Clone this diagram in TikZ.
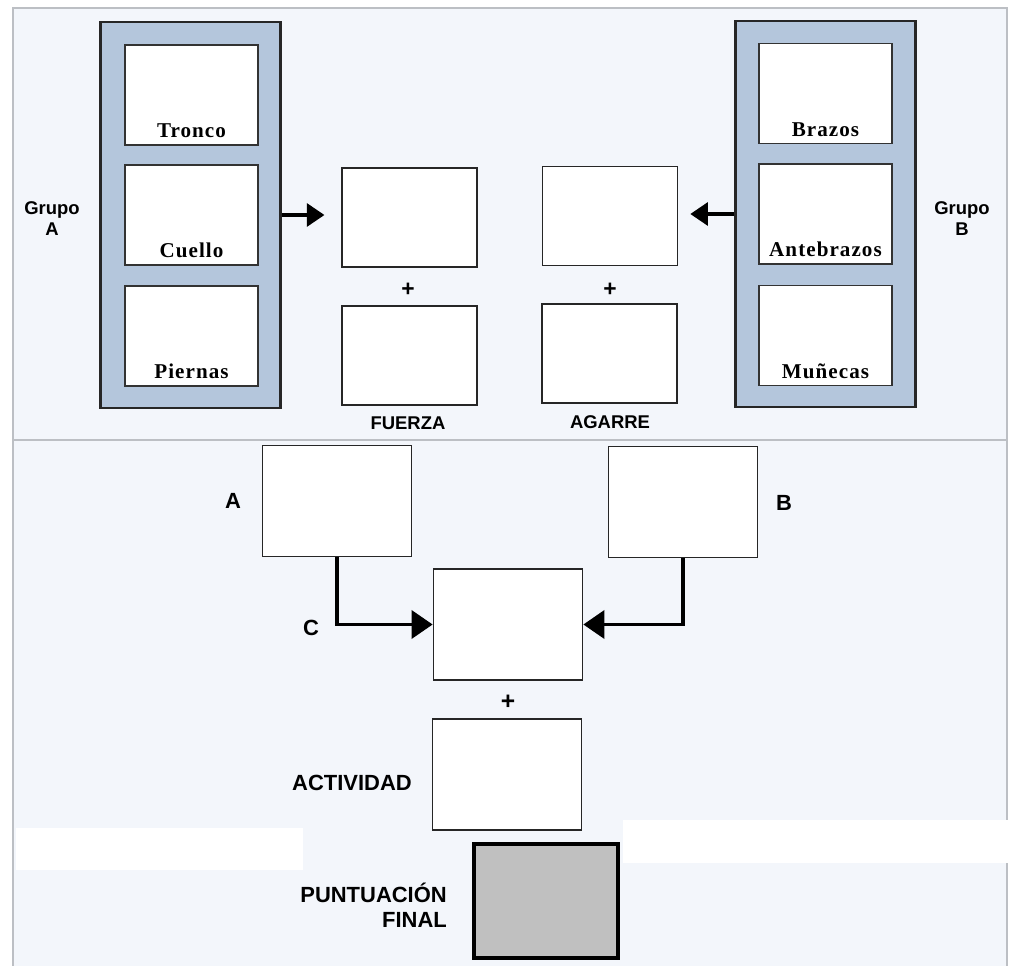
\documentclass[tikz,border=0pt]{standalone}
\usepackage{fontspec}
\setmainfont{Liberation Sans}
\newfontfamily\cellfont[LetterSpace=5]{Liberation Serif}
\usepackage{tikz}
\usetikzlibrary{arrows.meta, calc, positioning}

\definecolor{sheet}{RGB}{243,246,251}
\definecolor{grpblue}{RGB}{180,198,220}
\definecolor{framegray}{RGB}{188,191,196}
\definecolor{finalgray}{RGB}{192,192,192}

\begin{document}
\begin{tikzpicture}[x=0.02cm, y=-0.02cm,
    panel/.style={draw=black!85, line width=1.6pt, fill=grpblue, minimum width=3.6cm, minimum height=7.72cm, inner sep=0pt},
    cell/.style={draw=black!80, line width=1pt, fill=white, minimum width=2.66cm, minimum height=2cm, inner sep=0pt},
    score/.style={draw=black!85, line width=1pt, fill=white, minimum width=2.7cm, minimum height=1.98cm, inner sep=0pt},
    bigscore/.style={score, minimum width=2.98cm, minimum height=2.22cm},
    cellname/.style={anchor=base, inner sep=0pt, font=\cellfont\bfseries\fontsize{12}{14}\selectfont},
    tag/.style={font=\bfseries\fontsize{10.5}{12}\selectfont, align=center},
    bigtag/.style={font=\bfseries\fontsize{12.5}{14}\selectfont},
    feed/.style={line width=2pt, -{Triangle[length=10pt,width=13pt]}},
    merge/.style={line width=2pt, -{Triangle[length=12pt,width=16pt]}}]
    \useasboundingbox (0,0) rectangle (1011,966);

    % sheet and frame
    \fill[sheet] (13,8) rectangle (1007,966);
    \draw[framegray, line width=0.9pt] (13,966) -- (13,8) -- (1007,8) -- (1007,966);
    \draw[framegray, line width=0.8pt] (13,440) -- (1007,440);
    \fill[white] (16,828) rectangle (303,870);
    \fill[white] (623,820) rectangle (1008,863);

    % group A
    \node[panel] (grpA) at (190.5,215) {};
    \foreach \nm/\txt/\yy in {tronco/Tronco/95, cuello/Cuello/215, piernas/Piernas/336} {
        \node[cell] (\nm) at (191.5,\yy) {};
        \node[cellname] (\nm-l) at ([yshift=4.5pt]\nm.south) {\txt};
    }
    \node[tag] (grpA-l) at (52,219) {Grupo\\A};

    % group B
    \node[panel] (grpB) at (825.5,214) {};
    \foreach \nm/\txt/\yy in {brazos/Brazos/93.5, antebrazos/Antebrazos/214, munecas/Muñecas/335.5} {
        \node[cell] (\nm) at (825.5,\yy) {};
        \node[cellname] (\nm-l) at ([yshift=4.5pt]\nm.south) {\txt};
    }
    \node[tag] (grpB-l) at (962,219) {Grupo\\B};

    % fuerza / agarre
    \node[score] (fuerzaTop) at (409.5,217.5) {};
    \node[score] (fuerzaBot) at (409.5,355.5) {};
    \node[tag] (fuerzaPlus) at (408,290) {\fontsize{13}{14}\selectfont +};
    \node[tag] (fuerza-l) at (408,423) {FUERZA};

    \node[score] (agarreTop) at (610,216) {};
    \node[score] (agarreBot) at (609.5,353.5) {};
    \node[tag] (agarrePlus) at (610,290) {\fontsize{13}{14}\selectfont +};
    \node[tag] (agarre-l) at (610,422) {AGARRE};

    \draw[feed, shorten >=9.5pt] (grpA.east) -- (grpA.east -| fuerzaTop.west);
    \draw[feed, shorten >=6.8pt] (grpB.west) -- (grpB.west -| agarreTop.east);

    % lower half
    \node[bigscore] (boxA) at (337,501) {};
    \node[bigscore] (boxB) at (683,502) {};
    \node[bigscore] (boxC) at (508,624.5) {};
    \node[bigscore] (act) at (507,774.5) {};
    \node[bigscore, line width=2.8pt, draw=black, fill=finalgray, minimum width=2.88cm, minimum height=2.28cm] (final) at (546,901) {};

    \node[bigtag] (boxA-l) at (233,501) {A};
    \node[bigtag] (boxB-l) at (784,503) {B};
    \node[bigtag] (boxC-l) at (311,628) {C};
    \node[bigtag] (actPlus) at (508,702) {\fontsize{14}{15}\selectfont +};
    \node[bigtag] (act-l) at (352,783) {ACTIVIDAD};
    \node[bigtag, align=right, anchor=east] (final-l) at (453,905) {PUNTUACIÓN\\FINAL};

    \draw[merge] (boxA.south) |- (boxC.west);
    \draw[merge] (boxB.south) |- (boxC.east);
\end{tikzpicture}
\end{document}
